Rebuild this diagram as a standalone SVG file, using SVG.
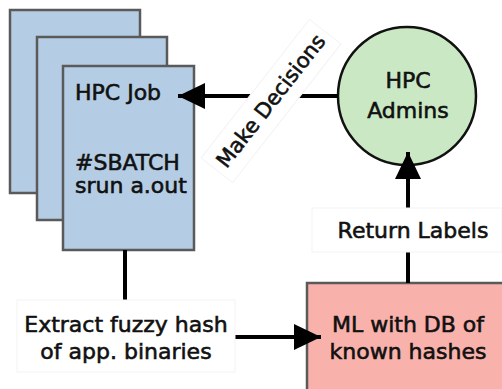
<svg xmlns="http://www.w3.org/2000/svg" width="502" height="389" viewBox="0 0 502 389">
<style>
text{font-family:"DejaVu Sans","Liberation Sans",sans-serif;font-size:22px;fill:#111;stroke:#111;stroke-width:0.6}
.job{fill:#b4cde4;stroke:#5a5a5a;stroke-width:2.5}
.lbl{fill:#fff;stroke:#f3f3f3;stroke-width:1}
.c{stroke:#000;stroke-width:4;fill:none}
</style>
<defs>
<marker id="ah" markerUnits="userSpaceOnUse" markerWidth="28" markerHeight="28" viewBox="0 0 28 28" refX="27" refY="14" orient="auto">
<path d="M0,1 L27,14 L0,27 Z" fill="#000"/>
</marker>
</defs>
<g id="hpc-job">
<rect class="job" x="10" y="10" width="130" height="183"/>
<rect class="job" x="37" y="37" width="130" height="183"/>
<rect class="job" x="63" y="66" width="131" height="184"/>
<text x="75" y="100">HPC Job</text>
<text x="75" y="170">#SBATCH</text>
<text x="75" y="193">srun a.out</text>
</g>
<g id="hpc-admins">
<circle cx="407" cy="96" r="69" fill="#c9e8c3" stroke="#111" stroke-width="2.5"/>
<text x="408" y="88" text-anchor="middle">HPC</text>
<text x="408" y="118" text-anchor="middle">Admins</text>
</g>
<g id="ml">
<rect x="307" y="283" width="200" height="112" fill="#f9b1ab" stroke="#5a5a5a" stroke-width="2.5"/>
<text x="408" y="332" text-anchor="middle">ML with DB of</text>
<text x="408" y="359" text-anchor="middle">known hashes</text>
</g>
<g id="connectors">
<line class="c" x1="125" y1="250" x2="125" y2="300"/>
<line class="c" x1="235" y1="337" x2="321" y2="337" marker-end="url(#ah)"/>
<line class="c" x1="408" y1="283" x2="408" y2="152" marker-end="url(#ah)"/>
<line class="c" x1="338" y1="96" x2="178" y2="96" marker-end="url(#ah)"/>
</g>
<g id="extract">
<rect class="lbl" x="17" y="300" width="218" height="72"/>
<text x="126" y="332" text-anchor="middle">Extract fuzzy hash</text>
<text x="126" y="359" text-anchor="middle">of app. binaries</text>
</g>
<g id="label-return">
<rect class="lbl" x="312" y="208" width="190" height="44"/>
<text x="413" y="238" text-anchor="middle">Return Labels</text>
</g>
<g id="label-decisions" transform="translate(271,101) rotate(-52)">
<rect class="lbl" x="-88" y="-20" width="176" height="40"/>
<text x="0" y="7" text-anchor="middle" style="font-size:21px">Make Decisions</text>
</g>
</svg>
